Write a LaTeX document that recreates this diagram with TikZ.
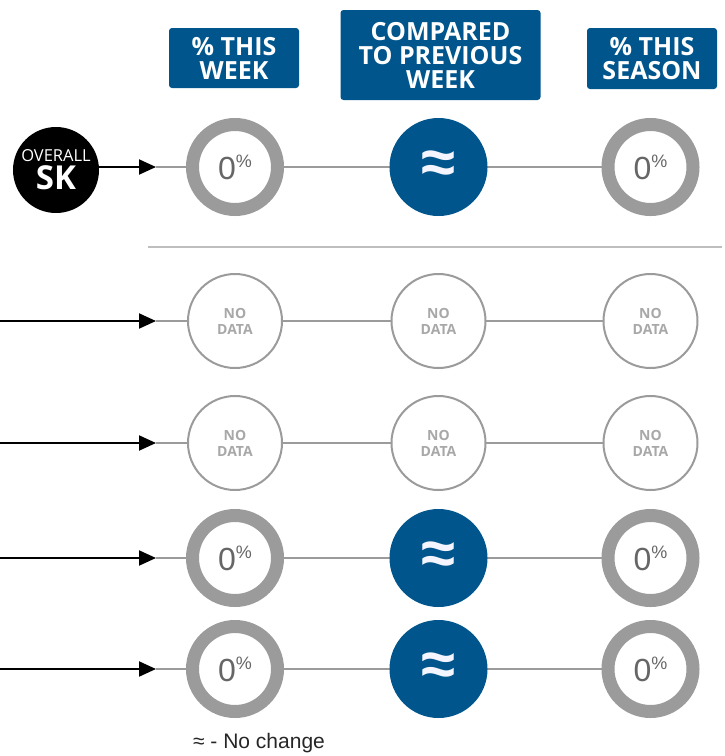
\documentclass[tikz,border=0pt]{standalone}
\usepackage{fontspec}
\setmainfont{Liberation Sans}
\newfontfamily\headfont{Open Sans}
\usetikzlibrary{backgrounds,arrows.meta}
\definecolor{skblue}{HTML}{00568C}
\definecolor{ringgray}{HTML}{9B9B9B}
\definecolor{textgray}{HTML}{A8A8A8}
\definecolor{digitgray}{HTML}{666666}
\newcommand{\pct}{0\raisebox{0.38em}{\fontsize{18}{18}\selectfont\%}}

\begin{document}
\begin{tikzpicture}[x=1pt,y=-1pt]
	% `ring' is used for the percentage values, `change' for the comparison.
	\tikzstyle{header} = [fill=skblue,text=white,rounded corners=3pt,align=center,inner sep=0pt,font=\headfont\bfseries\fontsize{25}{24}\selectfont]
	\tikzstyle{ring} = [circle,draw=ringgray,line width=13pt,fill=white,minimum size=85pt,inner sep=0pt,text=digitgray,font=\fontsize{32}{32}\selectfont]
	\tikzstyle{change} = [circle,fill=skblue,minimum size=98pt,inner sep=0pt,text=blue!4!white,font=\bfseries\fontsize{62}{62}\selectfont]
	\tikzstyle{nodata} = [circle,draw=ringgray,line width=2pt,fill=white,minimum size=94pt,inner sep=0pt,align=center,text=textgray,font=\headfont\bfseries\fontsize{14}{16}\selectfont]
	\tikzstyle{overall} = [circle,fill=black,minimum size=86pt,inner sep=0pt,align=center,text=white]
	\tikzstyle{feed} = [black,line width=2pt,-{Triangle[length=17pt,width=15pt]}]
	\tikzstyle{link} = [ringgray,line width=2.5pt]
	%
	\useasboundingbox (0,0) rectangle (725,756);
	% Column headers.
	\node[header,minimum width=130pt,minimum height=60pt] (hweek) at (234,58) {\% THIS\\WEEK};
	\node[header,minimum width=200pt,minimum height=90pt] (hprev) at (440.5,55) {COMPARED\\TO PREVIOUS\\WEEK};
	\node[header,minimum width=130pt,minimum height=61pt] (hseason) at (652,58.5) {\% THIS\\SEASON};
	% Overall row.
	\node[overall] (sk) at (56,170) {{\headfont\fontsize{16.5}{17}\selectfont OVERALL}\\[3pt]{\headfont\bfseries\fontsize{33}{26}\selectfont SK}};
	\coordinate (tip1) at (156,167);
	\draw[feed] (sk.east |- tip1) -- (tip1);
	% Rows with values.
	\foreach \n/\y in {1/167,4/558,5/669} {
		\node[ring] (w\n) at (235,\y) {\pct};
		\node[change] (p\n) at (438.5,\y) {≈};
		\node[ring] (s\n) at (650.5,\y) {\pct};
	}
	% Rows without data.
	\foreach \n/\y in {2/321,3/443} {
		\node[nodata] (w\n) at (235,\y) {NO\\DATA};
		\node[nodata] (p\n) at (438.5,\y) {NO\\DATA};
		\node[nodata] (s\n) at (650.5,\y) {NO\\DATA};
	}
	% Incoming arrows.
	\foreach \n/\y in {2/321,3/443,4/558,5/669} {
		\coordinate (in\n) at (0,\y);
		\coordinate (tip\n) at (156,\y);
		\draw[feed] (in\n) -- (tip\n);
	}
	% Separator and legend.
	\draw[ringgray!65,line width=2pt] (148,247) -- (722,247);
	\node[text=black!85,font=\fontsize{21}{21}\selectfont] (legend) at (259,743) {≈ - No change};
	\begin{pgfonlayer}{background}
		% Draw lines.
		\foreach \n in {1,...,5}
			\draw[link] (tip\n) -- (s\n);
	\end{pgfonlayer}
\end{tikzpicture}
\end{document}
